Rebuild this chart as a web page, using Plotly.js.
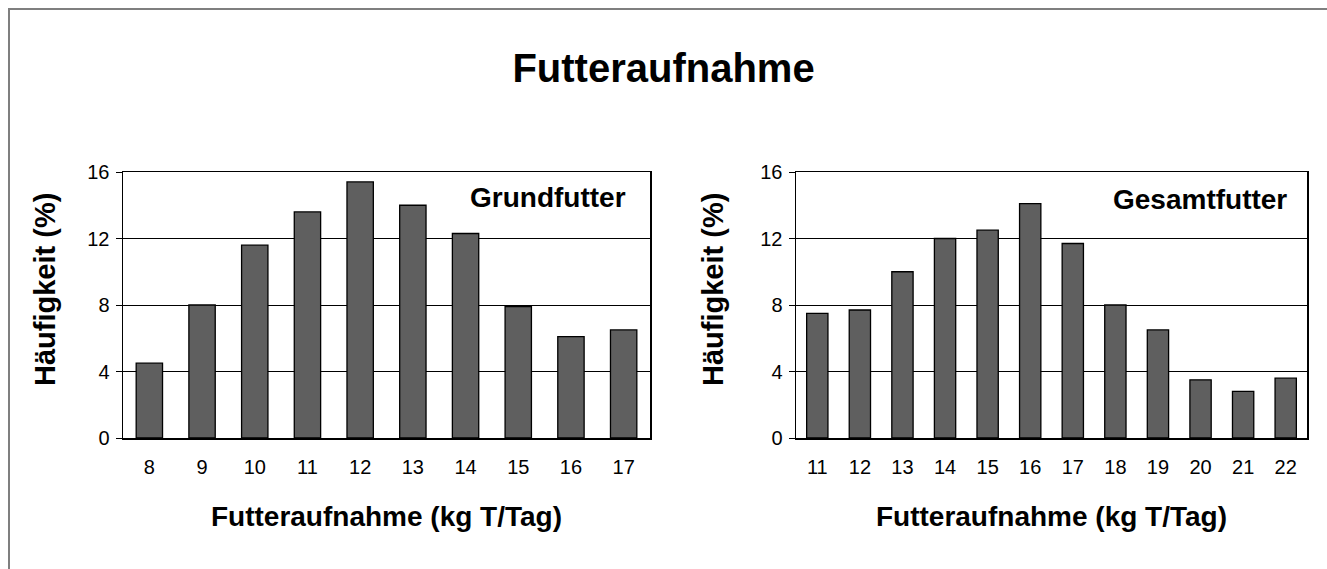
<!DOCTYPE html>
<html>
<head>
<meta charset="utf-8">
<script src="https://cdn.plot.ly/plotly-3.0.1.min.js"></script>
<style>html,body{margin:0;padding:0;background:#fff;}#chart{width:1327px;height:569px;}</style>
</head>
<body>
<div id="chart"></div>
<script>
const chartTitle = "Futteraufnahme";
const xTitle = "Futteraufnahme (kg T/Tag)";
const yTitle = "Häufigkeit (%)";

const grundLabel = "Grundfutter";
const grundCategories = ["8","9","10","11","12","13","14","15","16","17"];
const grundValues = [4.5, 8.0, 11.6, 13.6, 15.4, 14.0, 12.3, 7.9, 6.1, 6.5];

const gesamtLabel = "Gesamtfutter";
const gesamtCategories = ["11","12","13","14","15","16","17","18","19","20","21","22"];
const gesamtValues = [7.5, 7.7, 10.0, 12.0, 12.5, 14.1, 11.7, 8.0, 6.5, 3.5, 2.8, 3.6];

const yTickValues = [0, 4, 8, 12, 16];

const W = 1327, H = 569;
const font = "Liberation Sans, Arial, sans-serif";
const barColor = "#5f5f5f";

function px(x){ return x / W; }
function py(y){ return 1 - y / H; }

const yDomain = [py(438), py(172)];

const traces = [
  {type:"bar", x:grundCategories, y:grundValues, xaxis:"x", yaxis:"y",
   marker:{color:barColor, line:{color:"#000", width:1.3}}, hoverinfo:"x+y"},
  {type:"bar", x:gesamtCategories, y:gesamtValues, xaxis:"x2", yaxis:"y2",
   marker:{color:barColor, line:{color:"#000", width:1.3}}, hoverinfo:"x+y"}
];

function xAxis(domain, anchor){
  return {domain:domain, anchor:anchor, type:"category",
    showline:true, mirror:true, linecolor:"#000", linewidth:1.5,
    ticks:"", showgrid:false, zeroline:false, ticklabelstandoff:10,
    tickfont:{family:font, size:20, color:"#000"},
    title:{text:xTitle, font:{family:font, size:28, color:"#000", weight:"bold"}, standoff:30}};
}
function yAxis(domain, anchor){
  return {domain:domain, anchor:anchor, range:[0,16], tickvals:yTickValues,
    ticktext:yTickValues.map(String),
    showline:true, mirror:true, linecolor:"#000", linewidth:1.5,
    ticks:"outside", ticklen:6, tickcolor:"#000", tickwidth:1, ticklabelstandoff:2,
    showgrid:true, gridcolor:"#000", gridwidth:1, zeroline:false,
    tickfont:{family:font, size:20, color:"#000"}};
}

const layout = {
  width:W, height:H, margin:{l:0,r:0,t:0,b:0},
  paper_bgcolor:"#fff", plot_bgcolor:"#fff",
  showlegend:false, bargap:0.5,
  font:{family:font, color:"#000"},
  title:{text:chartTitle, font:{family:font, size:40, color:"#000", weight:"bold"},
         x:0.5, xanchor:"center", y:py(68), yanchor:"middle", xref:"paper", yref:"paper"},
  xaxis: xAxis([px(123), px(650)], "y"),
  yaxis: yAxis(yDomain, "x"),
  xaxis2: xAxis([px(796), px(1307)], "y2"),
  yaxis2: yAxis(yDomain, "x2"),
  annotations:[
    {text:grundLabel, xref:"x domain", yref:"y domain", x:0.958, y:0.905,
     xanchor:"right", yanchor:"middle", showarrow:false,
     font:{family:font, size:28, color:"#000", weight:"bold"}},
    {text:gesamtLabel, xref:"x2 domain", yref:"y2 domain", x:0.965, y:0.895,
     xanchor:"right", yanchor:"middle", showarrow:false,
     font:{family:font, size:28, color:"#000", weight:"bold"}},
    {text:yTitle, xref:"paper", yref:"paper", x:px(45), y:py(290), textangle:-90,
     xanchor:"center", yanchor:"middle", showarrow:false,
     font:{family:font, size:29, color:"#000", weight:"bold"}},
    {text:yTitle, xref:"paper", yref:"paper", x:px(713), y:py(290), textangle:-90,
     xanchor:"center", yanchor:"middle", showarrow:false,
     font:{family:font, size:29, color:"#000", weight:"bold"}}
  ],
  shapes:[
    {type:"rect", xref:"paper", yref:"paper", x0:px(9), x1:1.05, y0:-0.05, y1:py(9),
     line:{color:"#7f7f7f", width:2}, fillcolor:"rgba(0,0,0,0)", layer:"below"}
  ]
};

Plotly.newPlot("chart", traces, layout, {staticPlot:true, displayModeBar:false});
</script>
</body>
</html>
